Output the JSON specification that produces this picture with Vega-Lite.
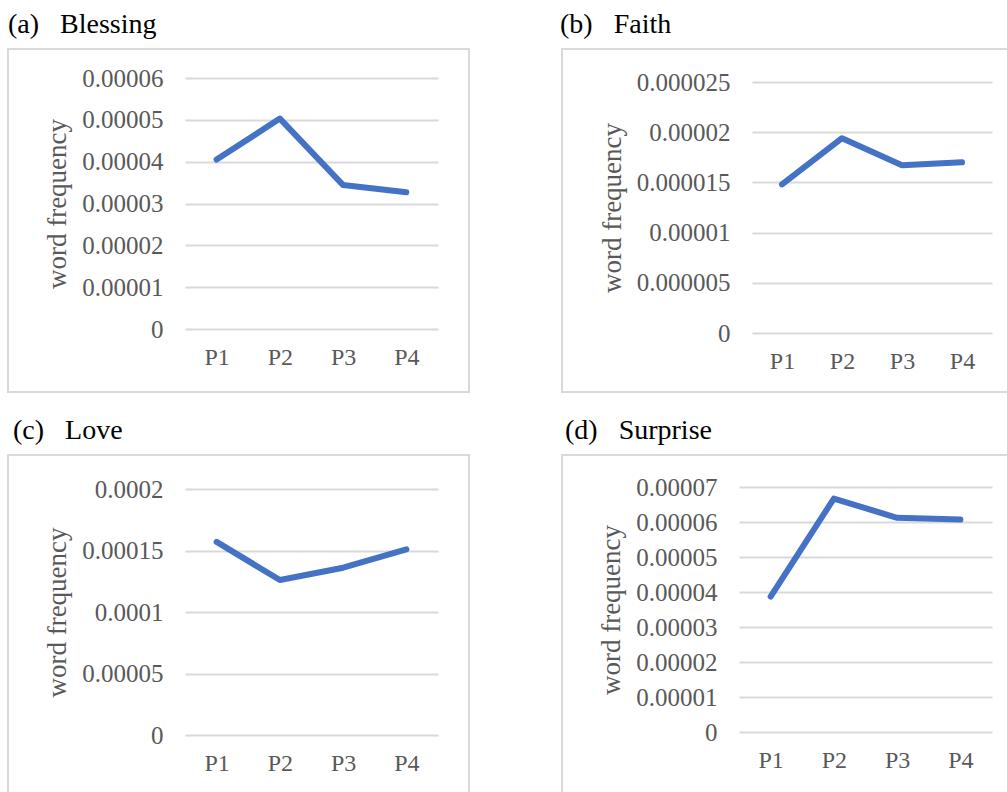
{
  "$schema": "https://vega.github.io/schema/vega-lite/v6.json",
  "padding": {"left": 7, "top": 10, "right": 0, "bottom": 0},
  "columns": 2,
  "spacing": {"column": 89, "row": 23},
  "concat": [
    {
      "title": {"text": "(a)\u00a0\u00a0\u00a0Blessing"},
      "width": 461, "height": 343,
      "data": {"values": [
        {"period": "P1", "freq": 0.0000405},
        {"period": "P2", "freq": 0.0000503},
        {"period": "P3", "freq": 0.0000344},
        {"period": "P4", "freq": 0.0000327}
      ]},
      "mark": {"type": "line", "color": "#4472C4", "strokeWidth": 6, "strokeCap": "round", "strokeJoin": "round"},
      "encoding": {
        "x": {"field": "period", "type": "ordinal", "scale": {"type": "point", "domain": ["P1", "P2", "P3", "P4"], "range": [177, 430], "padding": 0.5}, "axis": {"offset": -63, "title": null}},
        "y": {"field": "freq", "type": "quantitative", "scale": {"domain": [0, 0.00006], "range": [280, 29], "nice": false, "zero": true}, "axis": {"offset": -177, "values": [0, 0.00001, 0.00002, 0.00003, 0.00004, 0.00005, 0.00006], "format": ".5~f", "title": "word frequency"}}
      }
    },
    {
      "title": {"text": "(b)\u00a0\u00a0\u00a0Faith", "dx": -2},
      "width": 461, "height": 343,
      "data": {"values": [
        {"period": "P1", "freq": 0.0000148},
        {"period": "P2", "freq": 0.0000194},
        {"period": "P3", "freq": 0.0000167},
        {"period": "P4", "freq": 0.000017}
      ]},
      "mark": {"type": "line", "color": "#4472C4", "strokeWidth": 6, "strokeCap": "round", "strokeJoin": "round"},
      "encoding": {
        "x": {"field": "period", "type": "ordinal", "scale": {"type": "point", "domain": ["P1", "P2", "P3", "P4"], "range": [190, 430], "padding": 0.5}, "axis": {"offset": -59, "title": null}},
        "y": {"field": "freq", "type": "quantitative", "scale": {"domain": [0, 0.000025], "range": [284, 33], "nice": false, "zero": true}, "axis": {"offset": -190, "values": [0, 0.000005, 0.00001, 0.000015, 0.00002, 0.000025], "format": ".6~f", "title": "word frequency"}}
      }
    },
    {
      "title": {"text": "(c)\u00a0\u00a0\u00a0Love", "dx": 5},
      "width": 461, "height": 343,
      "data": {"values": [
        {"period": "P1", "freq": 0.000157},
        {"period": "P2", "freq": 0.000126},
        {"period": "P3", "freq": 0.000136},
        {"period": "P4", "freq": 0.000151}
      ]},
      "mark": {"type": "line", "color": "#4472C4", "strokeWidth": 6, "strokeCap": "round", "strokeJoin": "round"},
      "encoding": {
        "x": {"field": "period", "type": "ordinal", "scale": {"type": "point", "domain": ["P1", "P2", "P3", "P4"], "range": [177, 430], "padding": 0.5}, "axis": {"offset": -63, "title": null}},
        "y": {"field": "freq", "type": "quantitative", "scale": {"domain": [0, 0.0002], "range": [280, 34], "nice": false, "zero": true}, "axis": {"offset": -177, "values": [0, 0.00005, 0.0001, 0.00015, 0.0002], "format": ".5~f", "title": "word frequency"}}
      }
    },
    {
      "title": {"text": "(d)\u00a0\u00a0\u00a0Surprise", "dx": 3},
      "width": 461, "height": 343,
      "data": {"values": [
        {"period": "P1", "freq": 0.0000387},
        {"period": "P2", "freq": 0.0000667},
        {"period": "P3", "freq": 0.0000612},
        {"period": "P4", "freq": 0.0000607}
      ]},
      "mark": {"type": "line", "color": "#4472C4", "strokeWidth": 6, "strokeCap": "round", "strokeJoin": "round"},
      "encoding": {
        "x": {"field": "period", "type": "ordinal", "scale": {"type": "point", "domain": ["P1", "P2", "P3", "P4"], "range": [177, 430], "padding": 0.5}, "axis": {"offset": -66, "title": null}},
        "y": {"field": "freq", "type": "quantitative", "scale": {"domain": [0, 0.00007], "range": [277, 32], "nice": false, "zero": true}, "axis": {"offset": -177, "values": [0, 0.00001, 0.00002, 0.00003, 0.00004, 0.00005, 0.00006, 0.00007], "format": ".5~f", "title": "word frequency"}}
      }
    }
  ],
  "config": {
    "font": "Liberation Serif, Times New Roman, serif",
    "background": "#ffffff",
    "view": {"stroke": "#d9d9d9", "strokeWidth": 2},
    "axis": {
      "labelFont": "Liberation Serif, Times New Roman, serif", "labelColor": "#595959",
      "titleFont": "Liberation Serif, Times New Roman, serif", "titleFontSize": 27, "titleColor": "#595959", "titleFontWeight": "normal", "titlePadding": 10,
      "domain": false, "ticks": false, "gridColor": "#d9d9d9", "gridWidth": 2, "labelOverlap": false
    },
    "axisX": {"labelPadding": 16, "labelAngle": 0, "labelFontSize": 24},
    "axisY": {"labelPadding": 22, "labelFontSize": 25},
    "title": {"font": "Liberation Serif, Times New Roman, serif", "fontSize": 28, "fontWeight": "normal", "color": "#000000", "anchor": "start", "frame": "group", "offset": 10, "baseline": "alphabetic"}
  }
}
